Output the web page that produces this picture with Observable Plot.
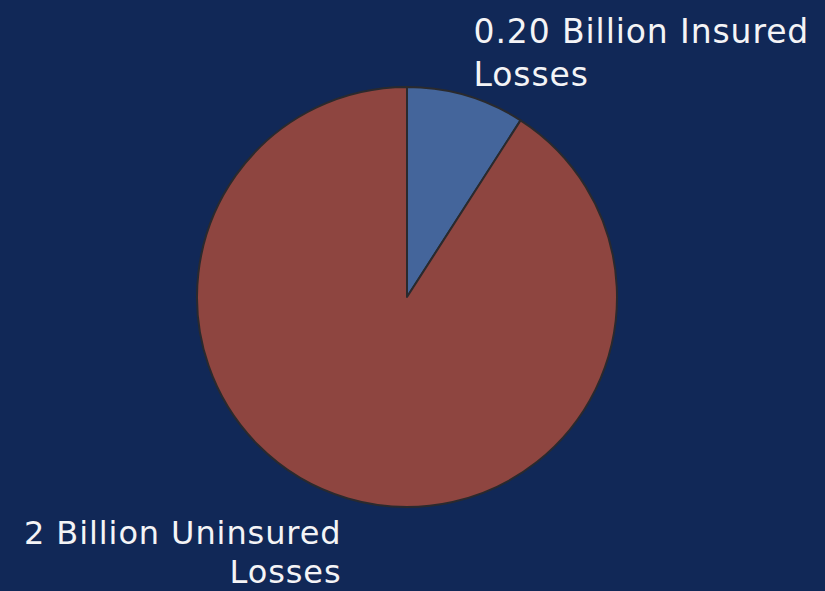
<!DOCTYPE html>
<html>
<head>
<meta charset="utf-8">
<script src="https://cdn.jsdelivr.net/npm/d3@7"></script>
<script src="https://cdn.jsdelivr.net/npm/@observablehq/plot@0.6"></script>
<style>
  html, body { margin: 0; padding: 0; background: #112857; overflow: hidden; }
</style>
</head>
<body>
<div id="chart"></div>
<script>
// Data
const categories = ["Insured Losses", "Uninsured Losses"];
const values = [0.20, 2];           // billions
const labels = ["0.20 Billion Insured\nLosses", "2 Billion Uninsured\nLosses"];
const colors = ["#44659b", "#8e4540"];

const slices = categories.map((c, i) => ({category: c, value: values[i], label: labels[i], color: colors[i]}));
const arcs = d3.pie().sort(null).value(d => d.value)(slices);

// Layout (pixel placement of the pie and labels)
const W = 825, H = 591, CX = 407, CY = 297, R = 210;
const toX = px => (px - CX) / R, toY = py => (CY - py) / R;

const pieMark = (index, scales) => {
  const r = scales.x(1) - scales.x(0);
  const g = d3.create("svg:g")
    .attr("transform", `translate(${scales.x(0)},${scales.y(0)})`);
  const arc = d3.arc().innerRadius(0).outerRadius(r);
  g.selectAll("path").data(arcs).join("path")
    .attr("d", arc)
    .attr("fill", d => d.data.color)
    .attr("stroke", "#2a2a2e")
    .attr("stroke-width", 2)
    .attr("stroke-linejoin", "round");
  return g.node();
};

const chart = Plot.plot({
  width: W, height: H,
  margin: 0,
  style: {background: "#112857", fontFamily: "'DejaVu Sans', sans-serif", letterSpacing: "0.9px", overflow: "visible"},
  x: {domain: [-1, 1], range: [CX - R, CX + R], axis: null},
  y: {domain: [-1, 1], range: [CY + R, CY - R], axis: null},
  marks: [
    pieMark,
    Plot.text([slices[0]], {
      x: toX(473), y: toY(12), text: "label",
      textAnchor: "start", lineAnchor: "top", lineHeight: 1.3,
      fill: "#f4f4f6", fontSize: 33, fontWeight: 400
    }),
    Plot.text([slices[1]], {
      x: toX(341), y: toY(582), text: "label",
      textAnchor: "end", lineAnchor: "bottom", lineHeight: 1.2,
      fill: "#f4f4f6", fontSize: 32, fontWeight: 400
    })
  ]
});
document.getElementById("chart").appendChild(chart);
</script>
</body>
</html>
